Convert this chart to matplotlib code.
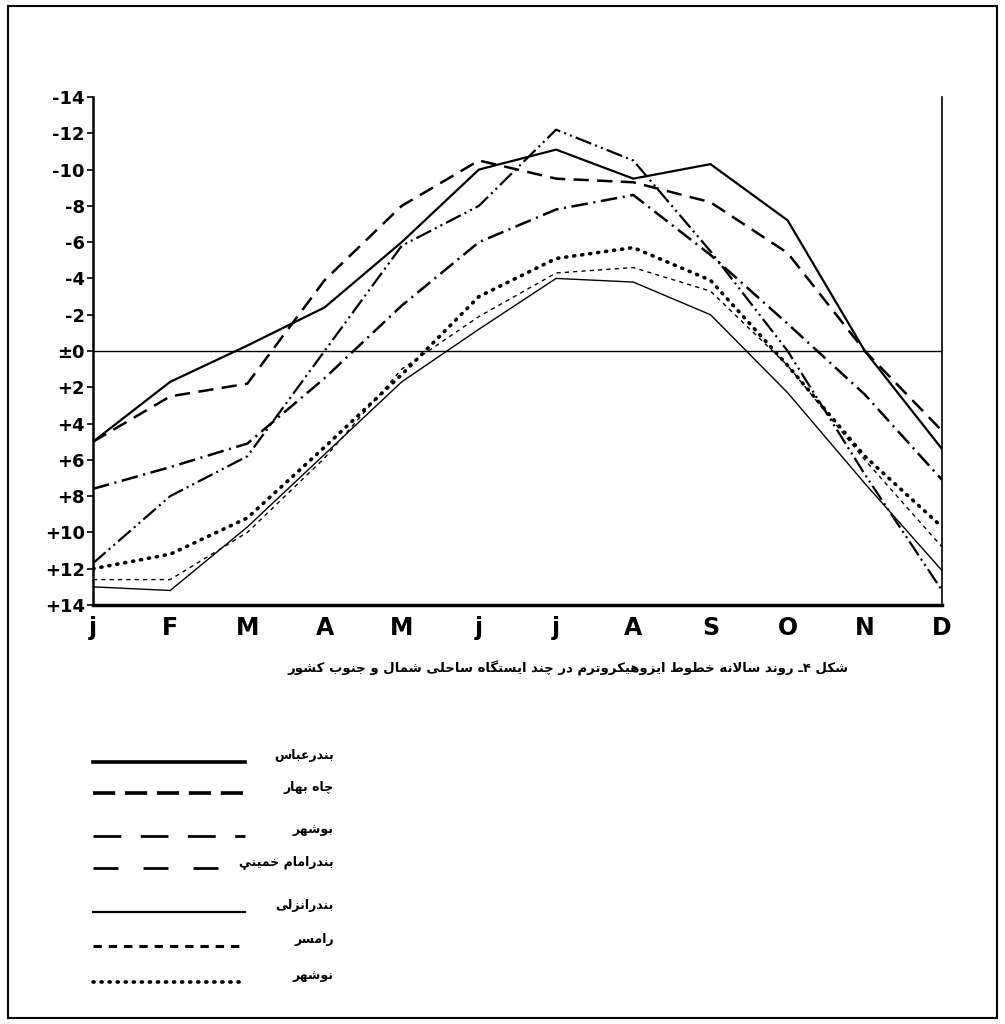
import numpy as np
import matplotlib
matplotlib.use('Agg')
import matplotlib.pyplot as plt
from matplotlib.lines import Line2D
from matplotlib.patches import Rectangle

plt.rcParams['lines.scale_dashes'] = False

# months along the bottom (as printed in the figure)
months = ['j', 'F', 'M', 'A', 'M', 'j', 'j', 'A', 'S', 'O', 'N', 'D']
y_ticks = list(range(-14, 15, 2))
y_tick_labels = ['-14', '-12', '-10', '-8', '-6', '-4', '-2', '±0',
                 '+2', '+4', '+6', '+8', '+10', '+12', '+14']

stations = ['بندرعباس', 'چاه بهار', 'بوشهر', 'بندرامام خمینی',
            'بندرانزلی', 'رامسر', 'نوشهر']

# values (axis is drawn with "-" values at the top)
bandar_abbas = [5.0, 1.7, -0.3, -2.4, -6.0, -10.0, -11.1, -9.5, -10.3, -7.2, 0.0, 5.4]
chabahar = [5.0, 2.5, 1.8, -3.9, -8.0, -10.5, -9.5, -9.3, -8.2, -5.4, 0.0, 4.4]
bushehr = [7.6, 6.4, 5.1, 1.5, -2.5, -6.0, -7.8, -8.6, -5.3, -1.5, 2.4, 7.1]
imam_khomeini = [11.7, 8.0, 5.8, 0.0, -5.8, -8.0, -12.2, -10.5, -5.5, 0.0, 6.8, 13.2]
anzali = [13.0, 13.2, 9.7, 5.7, 1.7, -1.2, -4.0, -3.8, -2.0, 2.3, 7.3, 12.1]
ramsar = [12.6, 12.6, 10.0, 5.9, 1.0, -1.9, -4.3, -4.6, -3.3, 0.8, 6.0, 10.8]
nowshahr = [12.0, 11.2, 9.2, 5.3, 1.3, -3.0, -5.1, -5.7, -3.9, 0.8, 5.8, 9.7]

series = [bandar_abbas, chabahar, bushehr, imam_khomeini, anzali, ramsar, nowshahr]

# line styles as they look inside the chart
plot_styles = [
    dict(color='black', lw=1.6, ls='-'),
    dict(color='black', lw=1.8, ls=(0, (11, 6))),
    dict(color='black', lw=1.8, ls=(0, (12, 4, 1.5, 4))),
    dict(color='black', lw=1.6, ls=(0, (12, 3, 1.5, 3, 1.5, 3))),
    dict(color='black', lw=1.0, ls='-'),
    dict(color='black', lw=1.0, ls=(0, (3, 3))),
    dict(color='black', lw=2.6, ls=(0, (0.8, 5)), dash_capstyle='round'),
]
# line styles as they look in the key under the chart
key_styles = [
    dict(color='black', lw=2.6, ls='-'),
    dict(color='black', lw=2.6, ls=(0, (16, 7))),
    dict(color='black', lw=2.0, ls=(0, (20, 14))),
    dict(color='black', lw=2.0, ls=(0, (18, 18))),
    dict(color='black', lw=1.6, ls='-'),
    dict(color='black', lw=2.2, ls=(0, (6, 5))),
    dict(color='black', lw=2.6, ls=(0, (0.8, 5)), dash_capstyle='round'),
]


# ---- tiny persian shaper (matplotlib does no arabic joining itself) ----
FORMS = {
    'ا': ('\uFE8D', '\uFE8E', None, None),
    'ب': ('\uFE8F', '\uFE90', '\uFE91', '\uFE92'),
    'ت': ('\uFE95', '\uFE96', '\uFE97', '\uFE98'),
    'ج': ('\uFE9D', '\uFE9E', '\uFE9F', '\uFEA0'),
    'ح': ('\uFEA1', '\uFEA2', '\uFEA3', '\uFEA4'),
    'خ': ('\uFEA5', '\uFEA6', '\uFEA7', '\uFEA8'),
    'د': ('\uFEA9', '\uFEAA', None, None),
    'ر': ('\uFEAD', '\uFEAE', None, None),
    'ز': ('\uFEAF', '\uFEB0', None, None),
    'س': ('\uFEB1', '\uFEB2', '\uFEB3', '\uFEB4'),
    'ش': ('\uFEB5', '\uFEB6', '\uFEB7', '\uFEB8'),
    'ط': ('\uFEC1', '\uFEC2', '\uFEC3', '\uFEC4'),
    'ع': ('\uFEC9', '\uFECA', '\uFECB', '\uFECC'),
    'ل': ('\uFEDD', '\uFEDE', '\uFEDF', '\uFEE0'),
    'م': ('\uFEE1', '\uFEE2', '\uFEE3', '\uFEE4'),
    'ن': ('\uFEE5', '\uFEE6', '\uFEE7', '\uFEE8'),
    'ه': ('\uFEE9', '\uFEEA', '\uFEEB', '\uFEEC'),
    'و': ('\uFEED', '\uFEEE', None, None),
    'ی': ('\uFBFC', '\uFBFD', '\uFBFE', '\uFBFF'),
    'ک': ('\uFB8E', '\uFB8F', '\uFB90', '\uFB91'),
    'گ': ('\uFB92', '\uFB93', '\uFB94', '\uFB95'),
    'چ': ('\uFB7A', '\uFB7B', '\uFB7C', '\uFB7D'),
    'ـ': ('\u0640', '\u0640', '\u0640', '\u0640'),
}


def shape(text):
    out = []
    i = 0
    n = len(text)
    while i < n:
        c = text[i]
        prev = text[i - 1] if i > 0 else ''
        nxt = text[i + 1] if i + 1 < n else ''
        join_prev = prev in FORMS and FORMS[prev][2] is not None
        if c == 'ل' and nxt == 'ا':
            out.append('\uFEFC' if join_prev else '\uFEFB')
            i += 2
            continue
        if c in FORMS:
            f = FORMS[c]
            join_next = nxt in FORMS and f[2] is not None
            if join_prev and join_next:
                out.append(f[3])
            elif join_prev:
                out.append(f[1])
            elif join_next:
                out.append(f[2])
            else:
                out.append(f[0])
        else:
            out.append(c)
        i += 1
    return ''.join(out[::-1])


fig = plt.figure(figsize=(10.05, 10.24), dpi=100)
ax = fig.add_axes([93 / 1005, 1 - 605 / 1024, (942 - 93) / 1005, (605 - 97) / 1024])

x = np.arange(len(months))
for vals, st in zip(series, plot_styles):
    ax.plot(x, vals, **st)

ax.axhline(0, color='black', lw=1.0)
ax.set_xlim(0, 11)
ax.set_ylim(14, -14)
ax.set_yticks(y_ticks)
ax.set_yticklabels(y_tick_labels, fontsize=13, fontweight='bold',
                   family=['Liberation Sans Narrow', 'DejaVu Sans'])
ax.set_xticks(x)
ax.set_xticklabels(months, fontsize=17, fontweight='bold',
                   family=['Liberation Sans Narrow', 'DejaVu Sans'])
ax.tick_params(axis='y', direction='out', length=4, width=1.2, pad=2)
ax.tick_params(axis='x', length=0, pad=8)
ax.spines['top'].set_visible(False)
ax.spines['bottom'].set_linewidth(2.5)
ax.spines['left'].set_linewidth(1.8)
ax.spines['right'].set_linewidth(1.2)

caption = 'شکل ۴ـ روند سالانه خطوط ایزوهیکروترم در چند ایستگاه ساحلی شمال و جنوب کشور'
fig.text(568 / 1005, 1 - 668 / 1024, shape(caption), ha='center', va='center',
         fontsize=9.5, fontweight='bold', family='DejaVu Sans')

# key below the chart
key_y = [762, 793, 836, 868, 912, 946, 982]
for name, st, yy in zip(stations, key_styles, key_y):
    yf = 1 - yy / 1024
    fig.add_artist(Line2D([93 / 1005, 245 / 1005], [yf, yf], transform=fig.transFigure, **st))
    fig.text(334 / 1005, yf + 6 / 1024, shape(name), ha='right', va='center',
             fontsize=9, fontweight='bold', family='DejaVu Sans')

# page border of the scan
fig.add_artist(Rectangle((8 / 1005, 6 / 1024), 989 / 1005, 1012 / 1024,
                         transform=fig.transFigure, fill=False, lw=1.5, ec='black'))

fig.savefig('out.png', dpi=100)
